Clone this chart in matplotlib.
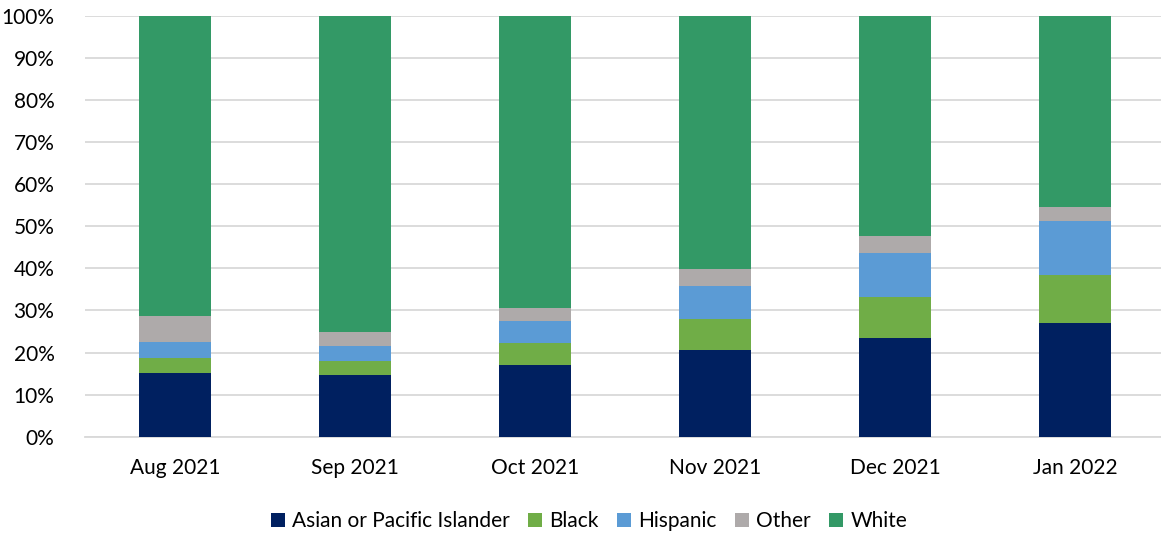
import matplotlib
matplotlib.use("Agg")
import matplotlib.pyplot as plt
import numpy as np

months = ["Aug 2021", "Sep 2021", "Oct 2021", "Nov 2021", "Dec 2021", "Jan 2022"]
groups = ["Asian or Pacific Islander", "Black", "Hispanic", "Other", "White"]

asian = [15.2, 14.6, 17.1, 20.6, 23.5, 27.0]
black = [3.6, 3.5, 5.1, 7.3, 9.6, 11.5]
hispanic = [3.8, 3.5, 5.3, 8.0, 10.6, 12.7]
other = [6.0, 3.2, 3.0, 3.9, 4.0, 3.4]
white = [71.4, 75.2, 69.5, 60.2, 52.3, 45.4]

colors = ["#002060", "#70AD47", "#5B9BD5", "#AEAAAA", "#339966"]

plt.rcParams["font.family"] = ["Lato", "DejaVu Sans"]

fig = plt.figure(figsize=(11.61, 5.37), dpi=100)
ax = fig.add_axes([85 / 1161, (537 - 436.7) / 537, 1 - 85 / 1161, (436.7 - 16) / 537])

x = np.arange(len(months))
bottom = np.zeros(len(months))
for name, vals, c in zip(groups, [asian, black, hispanic, other, white], colors):
    ax.bar(x, vals, width=0.4, bottom=bottom, color=c, label=name, zorder=3)
    bottom += np.array(vals)

ax.set_xlim(-0.5, (1161 - 175) / 180)
ax.set_ylim(0, 100)
ax.set_yticks(np.arange(0, 101, 10))
ax.set_yticklabels([f"{v}%" for v in range(0, 101, 10)])
ax.set_xticks(x)
ax.set_xticklabels(months)

ax.grid(axis="y", color="#d9d9d9", linewidth=1.3, zorder=0)
for s in ["top", "right", "left"]:
    ax.spines[s].set_visible(False)
ax.spines["bottom"].set_color("#d9d9d9")
ax.spines["bottom"].set_linewidth(1.3)
ax.tick_params(axis="both", length=0, labelsize=15, colors="#000000")
ax.tick_params(axis="y", pad=22)
ax.tick_params(axis="x", pad=15)

handles, labels = ax.get_legend_handles_labels()
fig.legend(handles, labels, loc="center", bbox_to_anchor=(589 / 1161, (537 - 521) / 537),
           ncol=5, frameon=False, fontsize=15, handlelength=0.65, handleheight=0.65,
           handletextpad=0.35, columnspacing=0.9)

fig.savefig("out.png", dpi=100)
